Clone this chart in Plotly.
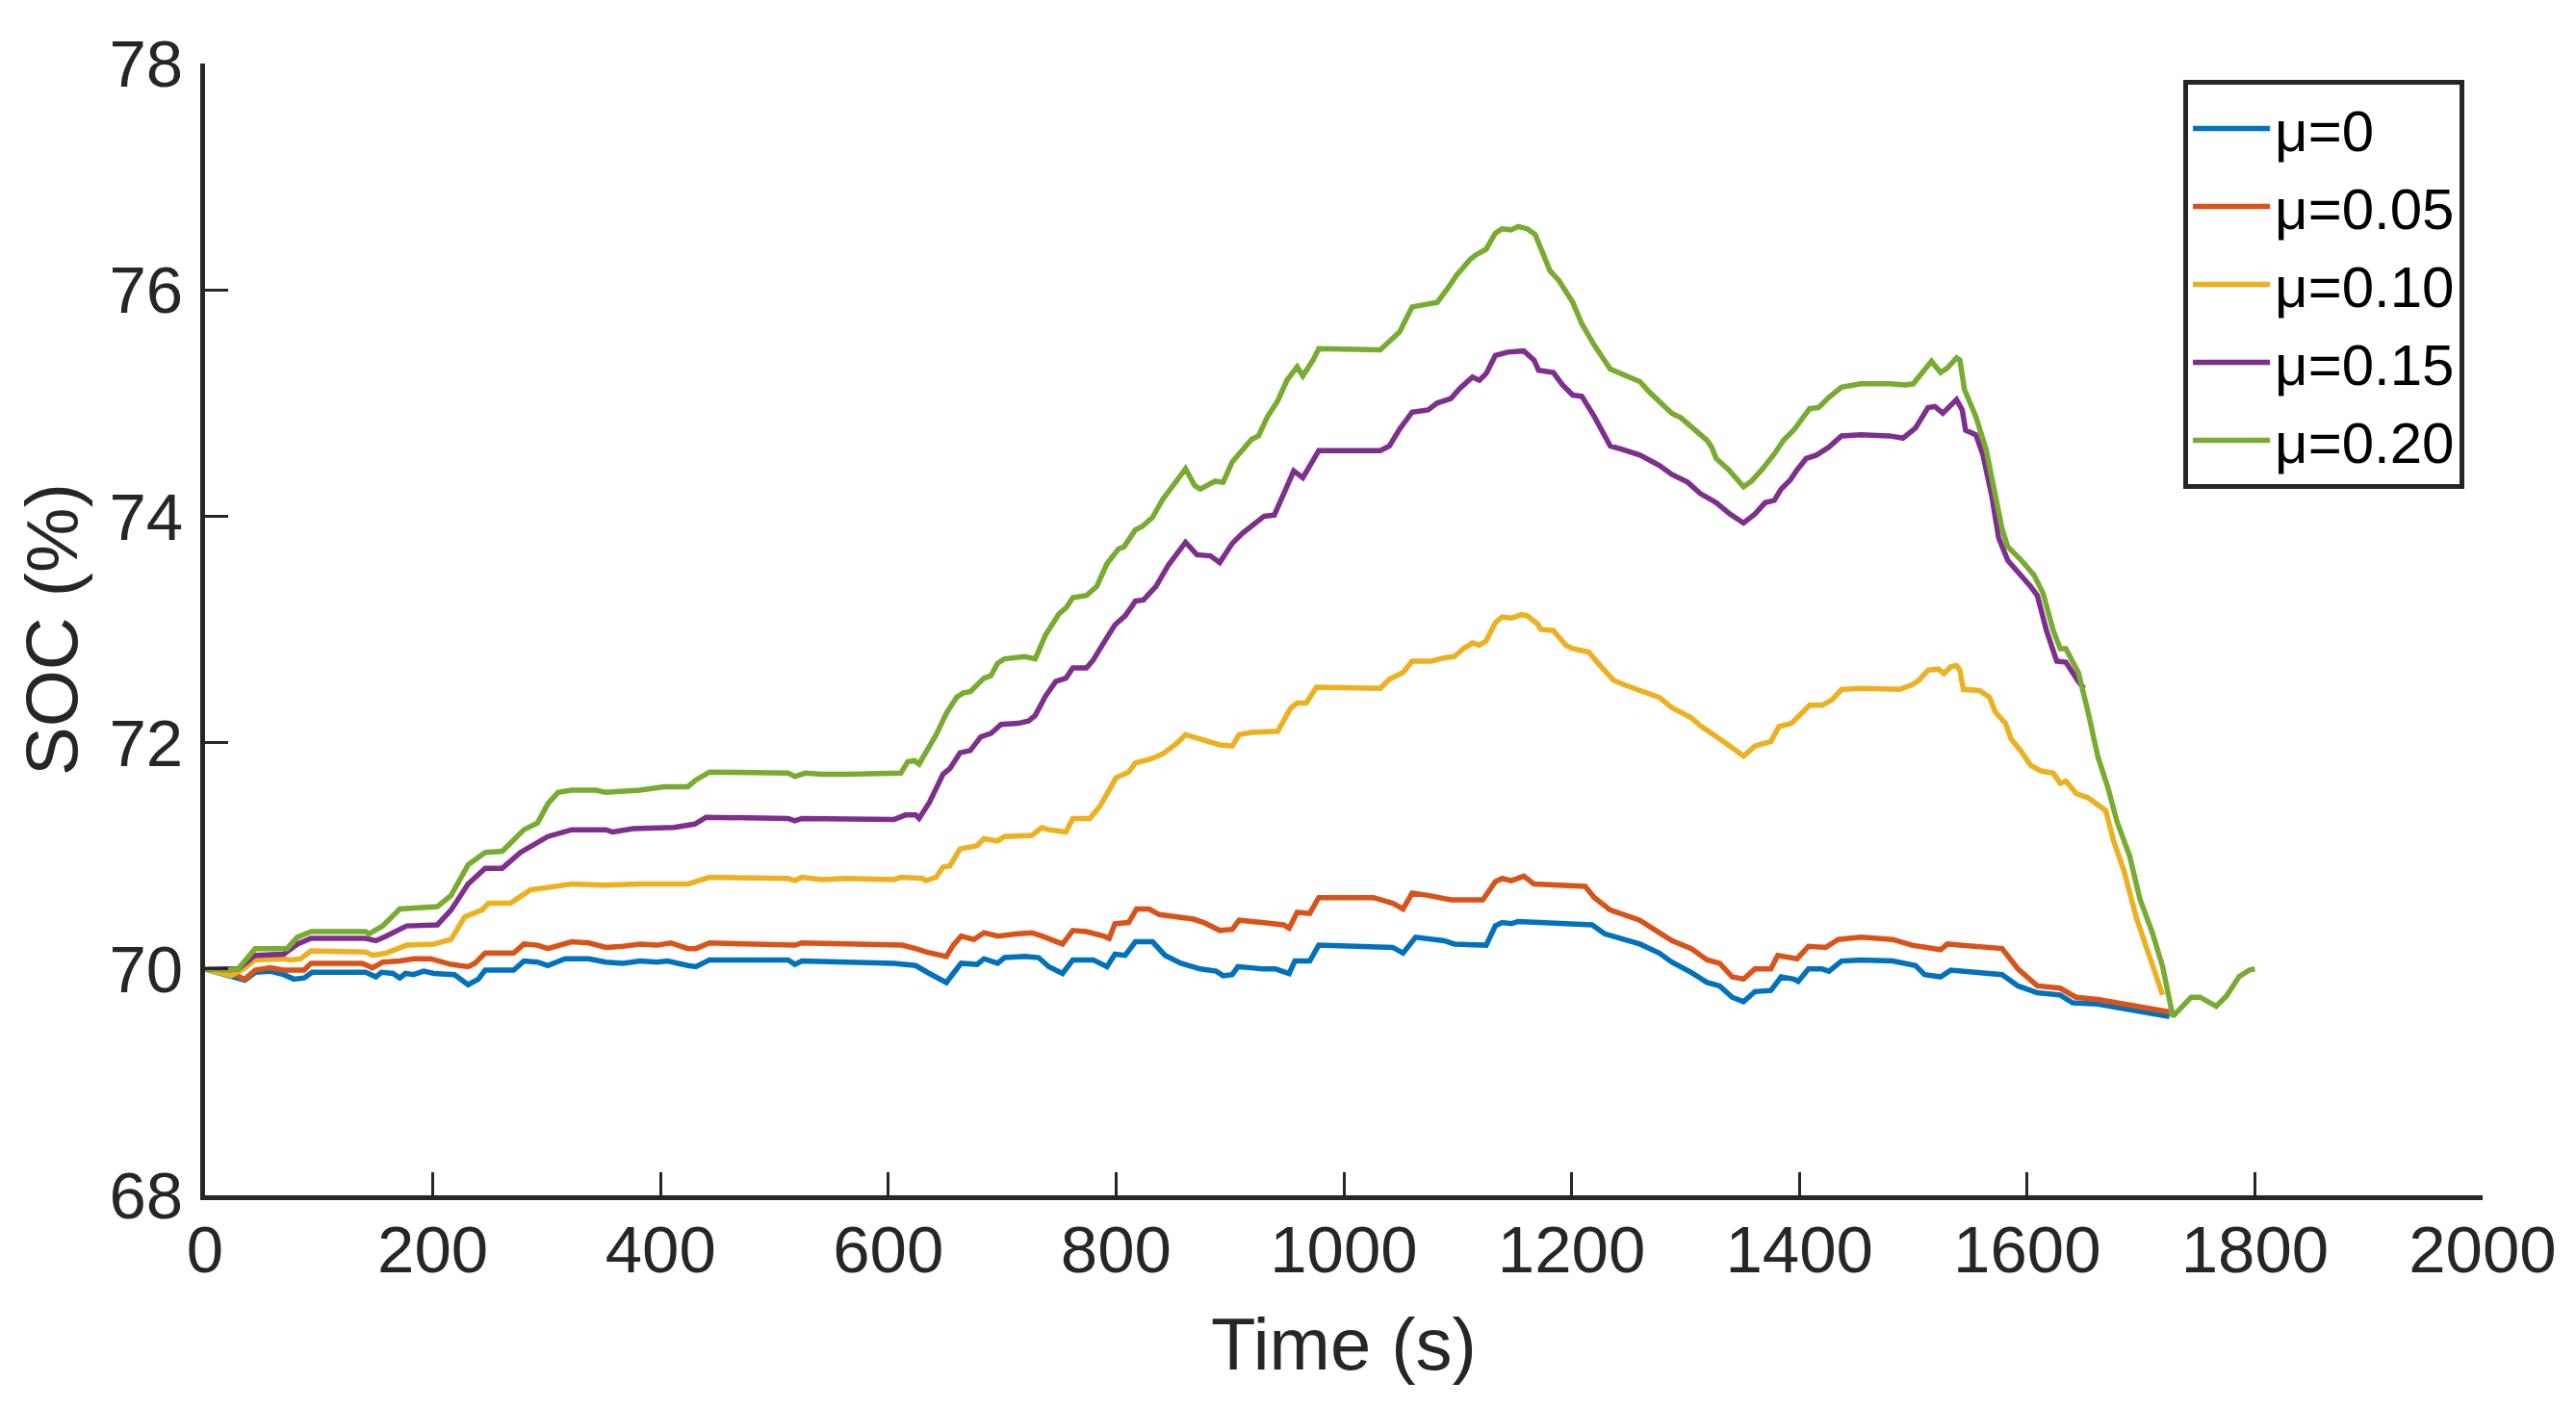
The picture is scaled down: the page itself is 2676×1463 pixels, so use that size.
import plotly.graph_objects as go

# ---- data: (time s, SOC %) ----
mu0 = [(0,70.0),(23,69.94),(35,69.90),(44,69.97),(57,69.98),(69,69.95),(78,69.91),(87,69.92),(94,69.97),(141,69.97),
       (150,69.93),(155,69.97),(165,69.96),(171,69.92),(176,69.96),(183,69.95),(192,69.98),(201,69.96),(219,69.95),(231,69.86),
       (240,69.91),(246,69.99),(271,69.99),(280,70.07),(292,70.06),(301,70.03),(316,70.09),(337,70.09),(352,70.06),(367,70.05),
       (382,70.07),(397,70.06),(406,70.07),(424,70.03),(431,70.02),(443,70.08),(512,70.08),(518,70.04),(524,70.07),(605,70.05),
       (624,70.03),(636,69.96),(651,69.88),(657,69.96),(664,70.05),(678,70.04),(684,70.09),(696,70.05),(702,70.10),(720,70.11),
       (732,70.10),(741,70.02),(753,69.96),(762,70.08),(780,70.08),(792,70.02),(799,70.13),(808,70.12),(817,70.24),(832,70.24),
       (835,70.21),(843,70.12),(857,70.05),(874,70.0),(888,69.98),(894,69.94),(902,69.95),(907,70.02),(919,70.01),(928,70.0),
       (940,70.0),(952,69.96),(957,70.07),(970,70.07),(978,70.21),(1043,70.19),(1052,70.14),(1063,70.28),(1088,70.25),(1097,70.22),
       (1125,70.21),(1133,70.38),(1139,70.41),(1147,70.40),(1153,70.42),(1173,70.41),(1218,70.39),(1229,70.31),(1245,70.26),(1260,70.22),
       (1277,70.14),(1288,70.06),(1305,69.97),(1319,69.88),(1330,69.85),(1341,69.75),(1351,69.71),(1361,69.80),(1375,69.81),(1384,69.93),
       (1395,69.91),(1399,69.89),(1408,70.0),(1420,70.0),(1426,69.98),(1437,70.07),(1454,70.08),(1482,70.07),(1502,70.03),(1510,69.95),
       (1524,69.93),(1533,69.99),(1578,69.95),(1592,69.85),(1609,69.79),(1629,69.77),(1640,69.70),(1662,69.69),(1725,69.58)]

mu005 = [(0,70.0),(23,69.98),(32,69.92),(35,69.91),(44,69.99),(57,70.01),(69,69.99),(87,69.99),(93,70.05),(138,70.05),
         (147,70.01),(156,70.06),(171,70.07),(183,70.09),(198,70.09),(216,70.04),(231,70.02),(237,70.05),(246,70.14),(271,70.14),
         (280,70.22),(292,70.21),(301,70.18),(310,70.21),(322,70.24),(337,70.23),(352,70.19),(367,70.20),(382,70.22),(397,70.21),
         (409,70.23),(424,70.18),(431,70.18),(443,70.23),(512,70.22),(518,70.21),(524,70.23),(605,70.22),(612,70.21),(624,70.18),
         (633,70.15),(651,70.11),(657,70.21),(664,70.29),(675,70.26),(684,70.32),(696,70.29),(714,70.31),(726,70.32),(735,70.29),
         (753,70.22),(762,70.34),(774,70.33),(789,70.29),(794,70.27),(799,70.40),(811,70.41),(818,70.53),(829,70.53),(838,70.48),
         (847,70.47),(856,70.45),(868,70.44),(877,70.41),(891,70.34),(902,70.35),(908,70.43),(928,70.41),(947,70.39),(952,70.36),
         (959,70.50),(970,70.49),(978,70.63),(1026,70.63),(1043,70.58),(1052,70.53),(1060,70.67),(1074,70.65),(1082,70.63),(1094,70.61),
         (1122,70.61),(1133,70.77),(1139,70.80),(1147,70.78),(1158,70.82),(1167,70.75),(1212,70.73),(1220,70.63),(1234,70.52),(1245,70.48),
         (1260,70.43),(1277,70.32),(1288,70.25),(1305,70.18),(1319,70.08),(1330,70.05),(1341,69.93),(1351,69.91),(1361,70.0),(1375,70.0),
         (1381,70.12),(1398,70.09),(1408,70.20),(1423,70.19),(1434,70.26),(1454,70.28),(1482,70.26),(1499,70.21),(1524,70.17),(1530,70.22),
         (1578,70.18),(1592,70.0),(1609,69.85),(1629,69.83),(1643,69.75),(1662,69.73),(1725,69.62)]

mu010 = [(0,70.0),(23,69.94),(35,70.01),(44,70.08),(69,70.09),(75,70.08),(84,70.09),(93,70.16),(141,70.15),(147,70.12),
         (159,70.14),(177,70.21),(201,70.22),(216,70.26),(228,70.46),(243,70.52),(249,70.58),(268,70.58),(274,70.62),(286,70.70),
         (301,70.72),(322,70.75),(352,70.74),(382,70.75),(424,70.75),(443,70.81),(512,70.80),(518,70.78),(524,70.81),(542,70.79),
         (563,70.80),(605,70.79),(611,70.81),(630,70.80),(633,70.78),(642,70.81),(648,70.90),(654,70.91),(663,71.06),(669,71.07),
         (678,71.09),(684,71.15),(696,71.13),(702,71.17),(726,71.18),(735,71.25),(741,71.23),(756,71.21),(762,71.33),(777,71.33),
         (786,71.44),(795,71.60),(800,71.69),(811,71.74),(817,71.82),(829,71.85),(841,71.90),(854,72.0),(861,72.07),(871,72.04),
         (891,71.98),(902,71.97),(908,72.07),(919,72.09),(942,72.10),(953,72.30),(959,72.35),(967,72.35),(976,72.49),(1032,72.48),
         (1040,72.56),(1052,72.62),(1060,72.72),(1077,72.72),(1088,72.75),(1097,72.76),(1105,72.83),(1113,72.88),(1119,72.86),(1125,72.90),
         (1133,73.06),(1139,73.11),(1147,73.10),(1156,73.13),(1161,73.12),(1170,73.05),(1173,73.00),(1184,72.99),(1195,72.86),(1201,72.83),
         (1215,72.80),(1226,72.67),(1237,72.55),(1249,72.50),(1263,72.45),(1277,72.40),(1288,72.31),(1305,72.22),(1313,72.15),(1327,72.06),
         (1339,71.97),(1351,71.88),(1361,71.97),(1375,72.01),(1382,72.14),(1393,72.17),(1401,72.25),(1409,72.33),(1420,72.33),(1429,72.38),
         (1437,72.47),(1454,72.48),(1488,72.47),(1499,72.51),(1505,72.55),(1513,72.64),(1522,72.65),(1527,72.61),(1533,72.67),(1538,72.68),
         (1541,72.64),(1544,72.47),(1558,72.46),(1567,72.40),(1572,72.27),(1581,72.17),(1586,72.03),(1595,71.92),(1603,71.80),(1612,71.75),
         (1623,71.73),(1629,71.64),(1634,71.66),(1643,71.55),(1654,71.51),(1662,71.45),(1669,71.40),(1676,71.13),(1685,70.87),(1696,70.45),
         (1707,70.11),(1719,69.77)]

mu015 = [(0,70.0),(29,70.0),(44,70.12),(69,70.13),(81,70.22),(93,70.27),(141,70.27),(150,70.25),(159,70.29),(177,70.38),
         (204,70.39),(216,70.52),(231,70.75),(246,70.89),(261,70.89),(277,71.03),(301,71.17),(322,71.23),(352,71.23),(358,71.21),
         (376,71.24),(397,71.24),(412,71.25),(430,71.28),(440,71.34),(512,71.33),(518,71.31),(524,71.33),(605,71.32),(615,71.36),
         (624,71.36),(627,71.33),(636,71.47),(648,71.72),(654,71.77),(663,71.91),(672,71.93),(681,72.05),(690,72.08),(699,72.16),
         (714,72.17),(723,72.19),(729,72.24),(738,72.41),(747,72.54),(756,72.57),(762,72.66),(774,72.66),(780,72.73),(789,72.88),
         (799,73.04),(808,73.12),(817,73.25),(824,73.26),(835,73.38),(846,73.57),(854,73.68),(861,73.77),(871,73.66),(883,73.65),
         (891,73.59),(902,73.76),(911,73.85),(919,73.91),(930,74.0),(939,74.01),(947,74.20),(956,74.40),(964,74.34),(973,74.49),
         (978,74.58),(1032,74.58),(1040,74.62),(1049,74.77),(1060,74.92),(1074,74.94),(1082,75.0),(1094,75.04),(1102,75.13),(1113,75.23),
         (1119,75.20),(1125,75.26),(1133,75.42),(1144,75.45),(1158,75.46),(1167,75.38),(1171,75.29),(1184,75.27),(1192,75.16),(1201,75.07),
         (1209,75.06),(1220,74.88),(1234,74.62),(1245,74.59),(1260,74.54),(1277,74.45),(1288,74.37),(1302,74.30),(1313,74.20),(1327,74.12),
         (1339,74.02),(1351,73.94),(1361,74.02),(1370,74.12),(1378,74.14),(1384,74.24),(1392,74.32),(1398,74.41),(1406,74.51),(1415,74.54),
         (1426,74.61),(1437,74.71),(1454,74.72),(1479,74.71),(1491,74.69),(1502,74.78),(1513,74.96),(1519,74.97),(1526,74.91),(1533,74.98),
         (1538,75.03),(1543,74.94),(1546,74.76),(1555,74.72),(1561,74.55),(1569,74.18),(1575,73.81),(1583,73.61),(1595,73.48),(1603,73.38),
         (1609,73.30),(1617,72.99),(1626,72.72),(1634,72.71),(1645,72.54),(1650,72.48)]

mu020 = [(0,70.0),(20,69.99),(29,70.0),(44,70.18),(72,70.18),(81,70.28),(93,70.33),(141,70.33),(144,70.31),(156,70.38),
         (171,70.53),(204,70.55),(216,70.65),(231,70.92),(246,71.03),(261,71.04),(280,71.23),(292,71.29),(301,71.46),(310,71.56),
         (322,71.58),(343,71.58),(352,71.56),(382,71.58),(403,71.61),(424,71.61),(431,71.67),(443,71.74),(512,71.73),(518,71.70),
         (527,71.73),(542,71.72),(563,71.72),(605,71.72),(611,71.73),(617,71.83),(623,71.84),(627,71.81),(633,71.91),(642,72.07),
         (651,72.26),(660,72.40),(666,72.44),(672,72.45),(678,72.51),(684,72.57),(690,72.59),(696,72.70),(702,72.74),(720,72.76),
         (729,72.74),(738,72.95),(750,73.14),(756,73.19),(762,73.28),(774,73.30),(783,73.38),(792,73.58),(802,73.71),(807,73.73),
         (817,73.88),(823,73.91),(832,73.99),(841,74.15),(850,74.27),(861,74.42),(869,74.27),(874,74.24),(887,74.31),(894,74.30),
         (902,74.48),(911,74.58),(919,74.68),(925,74.71),(933,74.88),(942,75.02),(950,75.20),(959,75.32),(964,75.24),(973,75.38),
         (978,75.48),(1032,75.47),(1040,75.54),(1049,75.63),(1060,75.85),(1074,75.88),(1082,75.89),(1091,76.01),(1099,76.13),(1111,76.27),
         (1116,76.31),(1125,76.36),(1133,76.50),(1139,76.54),(1147,76.53),(1153,76.56),(1161,76.54),(1168,76.49),(1173,76.36),(1181,76.17),
         (1189,76.08),(1201,75.89),(1209,75.70),(1220,75.51),(1234,75.30),(1245,75.25),(1260,75.19),(1268,75.10),(1277,75.02),(1288,74.91),
         (1296,74.87),(1308,74.76),(1319,74.67),(1323,74.61),(1327,74.51),(1338,74.41),(1347,74.30),(1351,74.26),(1358,74.31),(1367,74.41),
         (1378,74.55),(1386,74.67),(1395,74.76),(1403,74.86),(1409,74.95),(1417,74.96),(1426,75.05),(1437,75.14),(1454,75.17),(1479,75.17),
         (1493,75.16),(1500,75.17),(1510,75.29),(1516,75.37),(1524,75.27),(1530,75.31),(1538,75.40),(1541,75.38),(1545,75.12),(1555,74.88),
         (1564,74.59),(1572,74.22),(1578,73.89),(1583,73.73),(1595,73.61),(1606,73.48),(1614,73.32),(1623,72.99),(1629,72.83),(1634,72.83),
         (1645,72.62),(1654,72.25),(1662,71.88),(1671,71.60),(1679,71.30),(1690,71.00),(1699,70.62),(1710,70.32),(1719,70.02),(1728,69.58),
         (1744,69.75),(1752,69.75),(1766,69.67),(1775,69.76),(1786,69.93),(1795,69.99),(1800,70.0)]

series_names = ["μ=0", "μ=0.05", "μ=0.10", "μ=0.15", "μ=0.20"]
series_data = [mu0, mu005, mu010, mu015, mu020]
colors = ["#0072BD", "#D95319", "#EDB120", "#7E2F8E", "#77AC30"]

x_ticks = [0, 200, 400, 600, 800, 1000, 1200, 1400, 1600, 1800, 2000]
y_ticks = [68, 70, 72, 74, 76, 78]

FONT = "Arial, 'Liberation Sans', Helvetica, sans-serif"
AX = "#262626"

fig = go.Figure()
for name, data, c in zip(series_names, series_data, colors):
    t = [p[0] for p in data]
    v = [p[1] for p in data]
    fig.add_trace(go.Scatter(x=t, y=v, mode="lines", name=name,
                             line=dict(color=c, width=5.5)))

axis_common = dict(
    showgrid=False, zeroline=False, showline=True, linecolor=AX, linewidth=5,
    ticks="inside", ticklen=24, tickwidth=3, tickcolor=AX, mirror=False,
    tickfont=dict(family=FONT, size=69, color=AX),
)

# page has an 8px body margin, so the figure is 16px smaller than the window
fig.update_layout(
    width=2660, height=1447,
    margin=dict(l=205, r=83, t=58, b=213),
    paper_bgcolor="white", plot_bgcolor="white",
    font=dict(family=FONT, color=AX),
    xaxis=dict(range=[0, 2000], tickmode="array", tickvals=x_ticks,
               ticklabelstandoff=-8,
               title=dict(text="Time (s)", font=dict(family=FONT, size=76, color=AX), standoff=36),
               **axis_common),
    yaxis=dict(range=[68, 78], tickmode="array", tickvals=y_ticks,
               ticklabelstandoff=4,
               title=dict(text="SOC (%)", font=dict(family=FONT, size=76, color=AX), standoff=9),
               **axis_common),
    legend=dict(x=0.992, y=0.9855, xanchor="right", yanchor="top",
                bgcolor="white", bordercolor=AX, borderwidth=5,
                font=dict(family=FONT, size=60, color="black"),
                itemwidth=80, tracegroupgap=0),
    showlegend=True,
)

fig.write_html("out.html")
